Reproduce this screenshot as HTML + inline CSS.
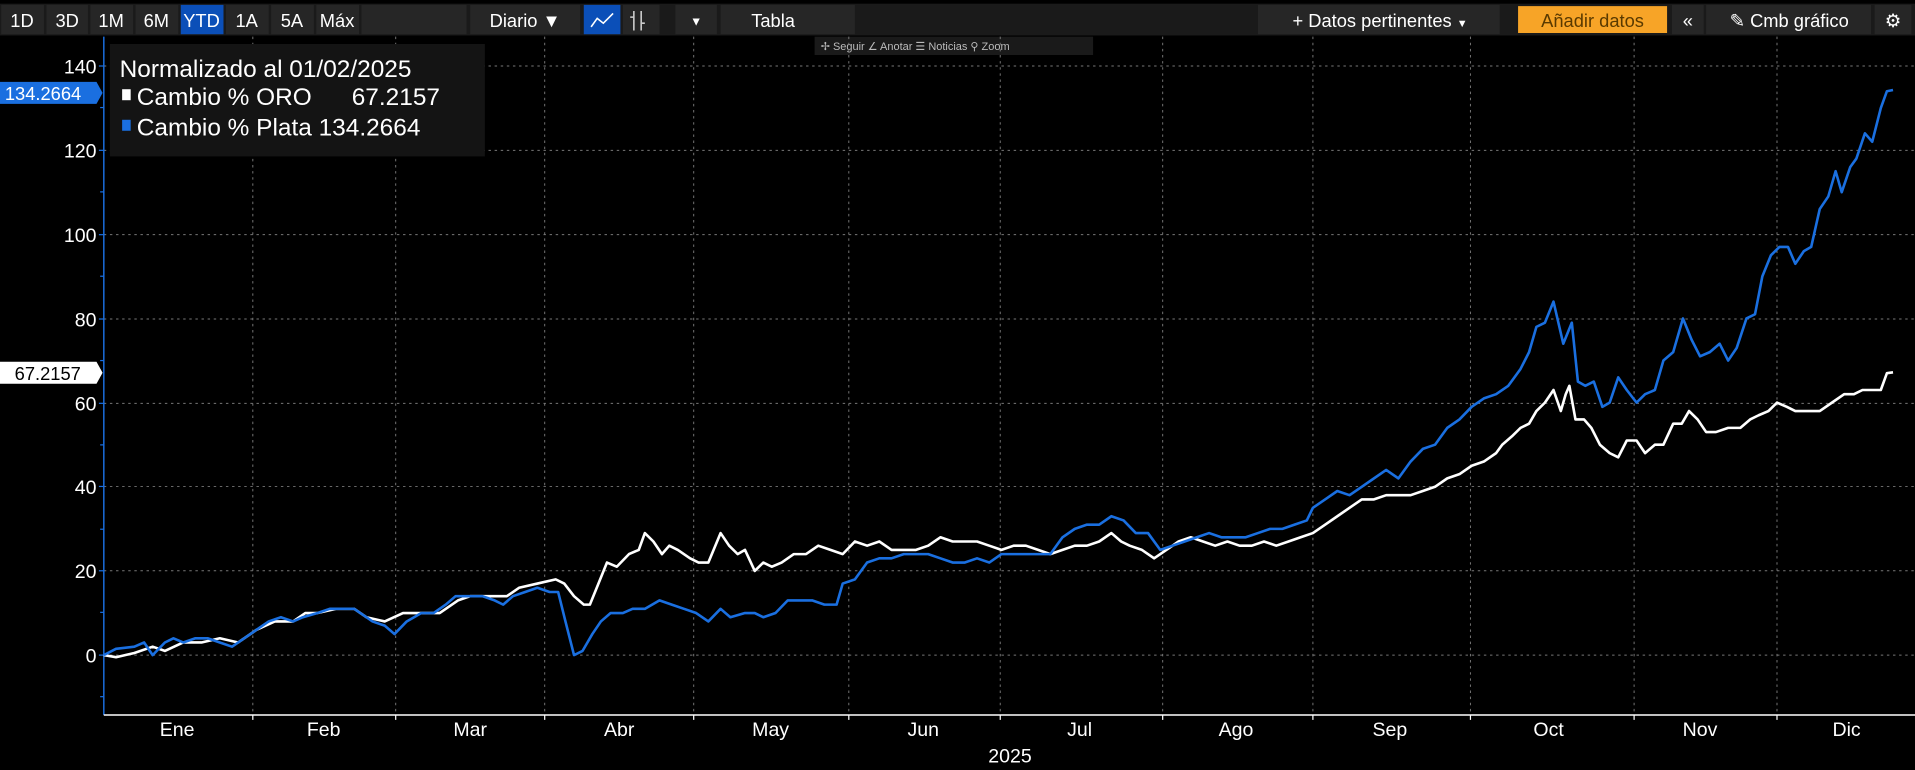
<!DOCTYPE html>
<html><head><meta charset="utf-8"><style>
html,body{margin:0;padding:0;background:#000;overflow:hidden}
svg{display:block}
text{font-family:"Liberation Sans",sans-serif;fill:#fff}
</style></head><body>
<svg width="1915" height="770" viewBox="0 0 1568 630" preserveAspectRatio="none" xmlns="http://www.w3.org/2000/svg">
<rect width="1568" height="630" fill="#000"/>
<!-- toolbar -->
<g font-size="15">
<rect x="0" y="3" width="1568" height="26" fill="#1a1a1a"/>
<g fill="#262626">
<rect x="1" y="4" width="35" height="24"/><rect x="38" y="4" width="34" height="24"/><rect x="74" y="4" width="35" height="24"/><rect x="111" y="4" width="35" height="24"/>
<rect x="185" y="4" width="35" height="24"/><rect x="222" y="4" width="35" height="24"/><rect x="259" y="4" width="35" height="24"/><rect x="296" y="4" width="86" height="24"/>
<rect x="385" y="4" width="90" height="24"/><rect x="510" y="4" width="30" height="24"/><rect x="553" y="4" width="34" height="24"/><rect x="590" y="4" width="110" height="24"/>
<rect x="1030" y="4" width="198" height="24"/><rect x="1369" y="4" width="26" height="24"/><rect x="1397" y="4" width="135" height="24"/><rect x="1535" y="4" width="30" height="24"/>
</g>
<rect x="148" y="4" width="35" height="24" fill="#0b4fb8"/>
<rect x="478" y="4" width="30" height="24" fill="#0b4fb8"/>
<rect x="1243" y="5" width="122" height="22" fill="#f7a427"/>
<g text-anchor="middle">
<text x="18" y="22">1D</text><text x="55" y="22">3D</text><text x="91" y="22">1M</text><text x="128" y="22">6M</text><text x="165" y="22">YTD</text>
<text x="202" y="22">1A</text><text x="239" y="22">5A</text><text x="276" y="22">Máx</text>
<text x="430" y="22">Diario ▼</text><text x="570" y="21" font-size="10">▼</text><text x="633" y="22">Tabla</text>
<text x="1130" y="22">+ Datos pertinentes <tspan font-size="9">▼</tspan></text>
<text x="1304" y="22" style="fill:#5a3a00">Añadir datos</text>
<text x="1382" y="22">«</text><text x="1465" y="22">✎ Cmb gráfico</text><text x="1550" y="22">⚙</text>
</g>
<polyline points="484,22 489,15 494,19 502,11" fill="none" stroke="#fff" stroke-width="1.3"/>
<path d="M519 9v16M525 9v16M516 14h3M525 19h3" stroke="#ccc" stroke-width="1.3"/>
</g>
<!-- small toolbar -->
<rect x="667" y="30" width="228" height="15" fill="#1a1a1a"/>
<text x="672" y="41" font-size="9" style="fill:#bbb">✢ Seguir  ∠ Anotar  ☰ Noticias  ⚲ Zoom</text>
<!-- grid -->
<g stroke="#777" stroke-width="0.8" stroke-dasharray="2,3">
<line x1="85" x2="1568" y1="54" y2="54"/><line x1="85" x2="1568" y1="123" y2="123"/><line x1="85" x2="1568" y1="192" y2="192"/>
<line x1="85" x2="1568" y1="261" y2="261"/><line x1="85" x2="1568" y1="330" y2="330"/><line x1="85" x2="1568" y1="398" y2="398"/>
<line x1="85" x2="1568" y1="467" y2="467"/><line x1="85" x2="1568" y1="536" y2="536"/>
<line x1="207" x2="207" y1="30" y2="585"/><line x1="324" x2="324" y1="30" y2="585"/><line x1="446" x2="446" y1="30" y2="585"/>
<line x1="568" x2="568" y1="30" y2="585"/><line x1="695" x2="695" y1="30" y2="585"/><line x1="819" x2="819" y1="30" y2="585"/>
<line x1="952" x2="952" y1="30" y2="585"/><line x1="1075" x2="1075" y1="30" y2="585"/><line x1="1204" x2="1204" y1="30" y2="585"/>
<line x1="1338" x2="1338" y1="30" y2="585"/><line x1="1455" x2="1455" y1="30" y2="585"/>
</g>
<!-- axes -->
<line x1="85" y1="30" x2="85" y2="585" stroke="#1a6fe0" stroke-width="1.2"/>
<line x1="85" y1="585" x2="1568" y2="585" stroke="#fff" stroke-width="1.2"/>
<g stroke="#1a6fe0" stroke-width="1">
<line x1="81" x2="85" y1="54" y2="54"/><line x1="81" x2="85" y1="123" y2="123"/><line x1="81" x2="85" y1="192" y2="192"/><line x1="81" x2="85" y1="261" y2="261"/>
<line x1="81" x2="85" y1="330" y2="330"/><line x1="81" x2="85" y1="398" y2="398"/><line x1="81" x2="85" y1="467" y2="467"/><line x1="81" x2="85" y1="536" y2="536"/>
<line x1="82" x2="85" y1="88" y2="88"/><line x1="82" x2="85" y1="157" y2="157"/><line x1="82" x2="85" y1="226" y2="226"/><line x1="82" x2="85" y1="295" y2="295"/>
<line x1="82" x2="85" y1="364" y2="364"/><line x1="82" x2="85" y1="433" y2="433"/><line x1="82" x2="85" y1="501" y2="501"/><line x1="82" x2="85" y1="570" y2="570"/>
</g>
<g stroke="#fff"><line x1="207" x2="207" y1="585" y2="589"/><line x1="324" x2="324" y1="585" y2="589"/><line x1="446" x2="446" y1="585" y2="589"/><line x1="568" x2="568" y1="585" y2="589"/><line x1="695" x2="695" y1="585" y2="589"/><line x1="819" x2="819" y1="585" y2="589"/><line x1="952" x2="952" y1="585" y2="589"/><line x1="1075" x2="1075" y1="585" y2="589"/><line x1="1204" x2="1204" y1="585" y2="589"/><line x1="1338" x2="1338" y1="585" y2="589"/><line x1="1455" x2="1455" y1="585" y2="589"/></g>
<g font-size="16" text-anchor="end">
<text x="79" y="60">140</text><text x="79" y="129">120</text><text x="79" y="198">100</text><text x="79" y="267">80</text>
<text x="79" y="336">60</text><text x="79" y="404">40</text><text x="79" y="473">20</text><text x="79" y="542">0</text>
</g>
<g font-size="16" text-anchor="middle">
<text x="145" y="602">Ene</text><text x="265" y="602">Feb</text><text x="385" y="602">Mar</text><text x="507" y="602">Abr</text>
<text x="631" y="602">May</text><text x="756" y="602">Jun</text><text x="884" y="602">Jul</text><text x="1012" y="602">Ago</text>
<text x="1138" y="602">Sep</text><text x="1268" y="602">Oct</text><text x="1392" y="602">Nov</text><text x="1512" y="602">Dic</text>
<text x="827" y="624">2025</text>
</g>
<!-- series -->
<g transform="translate(0,536) scale(1,-3.443)" fill="none" stroke-width="2.6" stroke-linejoin="round">
<polyline vector-effect="non-scaling-stroke" stroke="#fff" points="85,0 95,-0.5 110,0.5 125,2 135,1 150,3 165,3 180,4 195,3 210,6 225,8 240,8 250,10 260,10 275,11 290,11 300,9 315,8 330,10 345,10 360,10 375,13 385,14 400,14 415,14 425,16 440,17 455,18 462,17 470,14 478,12 483,12 490,17 497,22 505,21 515,24 523,25 528,29 535,27 542,24 548,26 555,25 565,23 572,22 580,22 590,29 597,26 604,24 610,25 618,20 625,22 632,21 640,22 650,24 660,24 670,26 680,25 690,24 700,27 710,26 720,27 730,25 740,25 750,25 760,26 770,28 780,27 790,27 800,27 810,26 820,25 830,26 840,26 850,25 860,24 870,25 880,26 890,26 900,27 910,29 918,27 925,26 935,25 945,23 955,25 965,27 975,28 985,27 995,26 1005,27 1015,26 1025,26 1035,27 1045,26 1055,27 1065,28 1075,29 1085,31 1095,33 1105,35 1115,37 1125,37 1135,38 1145,38 1155,38 1165,39 1175,40 1185,42 1195,43 1205,45 1215,46 1225,48 1230,50 1238,52 1245,54 1252,55 1258,58 1265,60 1272,63 1278,58 1282,62 1285,64 1290,56 1297,56 1303,54 1310,50 1318,48 1325,47 1332,51 1340,51 1347,48 1355,50 1362,50 1370,55 1377,55 1383,58 1390,56 1397,53 1405,53 1415,54 1425,54 1433,56 1440,57 1448,58 1455,60 1463,59 1470,58 1480,58 1490,58 1500,60 1510,62 1518,62 1525,63 1533,63 1540,63 1545,67 1550,67.2"/>
<polyline vector-effect="non-scaling-stroke" stroke="#1a6fe0" points="85,0 95,1.5 110,2 118,3 125,0 135,3 142,4 150,3 160,4 170,4 180,3 190,2 200,4 210,6 220,8 230,9 240,8 248,9 260,10 270,11 280,11 290,11 300,9 305,8 315,7 323,5 333,8 345,10 355,10 365,12 373,14 385,14 395,14 405,13 412,12 420,14 430,15 440,16 450,15 457,15 463,8 470,0 477,1 485,5 492,8 500,10 510,10 518,11 528,11 540,13 550,12 560,11 570,10 580,8 590,11 598,9 610,10 618,10 625,9 635,10 645,13 655,13 665,13 675,12 685,12 690,17 700,18 710,22 720,23 730,23 740,24 750,24 760,24 770,23 780,22 790,22 800,23 810,22 820,24 830,24 840,24 850,24 860,24 870,28 880,30 890,31 900,31 910,33 920,32 930,29 940,29 950,25 960,26 970,27 980,28 990,29 1000,28 1010,28 1020,28 1030,29 1040,30 1050,30 1060,31 1070,32 1075,35 1085,37 1095,39 1105,38 1115,40 1125,42 1135,44 1145,42 1155,46 1165,49 1175,50 1185,54 1195,56 1205,59 1215,61 1225,62 1235,64 1245,68 1252,72 1258,78 1265,79 1272,84 1280,74 1287,79 1292,65 1298,64 1305,65 1312,59 1318,60 1325,66 1332,63 1340,60 1347,62 1355,63 1362,70 1370,72 1378,80 1385,75 1392,71 1400,72 1408,74 1415,70 1422,73 1430,80 1437,81 1443,90 1450,95 1457,97 1464,97 1470,93 1477,96 1483,97 1490,106 1497,109 1503,115 1508,110 1515,116 1520,118 1527,124 1533,122 1540,130 1545,134 1550,134.3"/>
</g>
<!-- legend -->
<rect x="90" y="36" width="307" height="92" fill="#141414"/>
<g font-size="20">
<text x="98" y="63">Normalizado al 01/02/2025</text>
<rect x="100" y="73" width="7" height="9" fill="#fff"/>
<text x="112" y="86">Cambio % ORO <tspan x="288">67.2157</tspan></text>
<rect x="100" y="98" width="7" height="9" fill="#1a6fe0"/>
<text x="112" y="111">Cambio % Plata 134.2664</text>
</g>
<!-- value labels -->
<path d="M0,67 H79 L84,76 L79,85 H0 Z" fill="#1a6fe0"/>
<text x="4" y="82" font-size="15">134.2664</text>
<path d="M0,296 H79 L84,305 L79,314 H0 Z" fill="#fff"/>
<text x="12" y="311" font-size="15" style="fill:#000">67.2157</text>
</svg>
</body></html>
